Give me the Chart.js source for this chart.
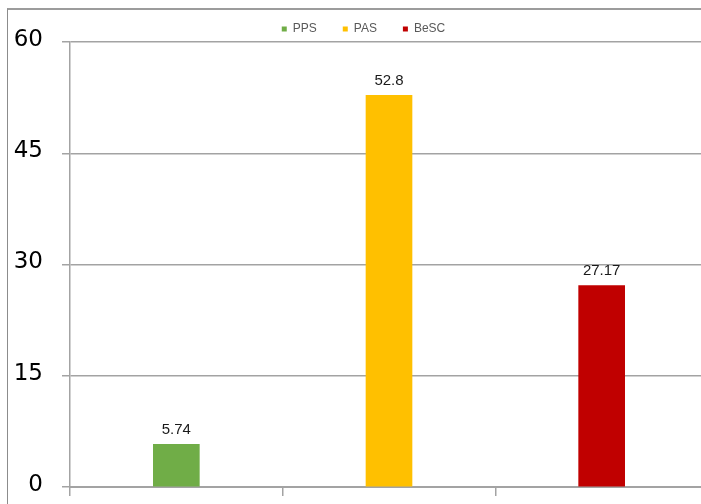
<!DOCTYPE html>
<html>
<head>
<meta charset="utf-8">
<script src="https://cdn.jsdelivr.net/npm/chart.js@4/dist/chart.umd.min.js"></script>
<style>
  html, body { margin: 0; padding: 0; background: #fff; overflow: hidden; }
  #wrap { position: relative; width: 701px; height: 504px; overflow: hidden; }
  #frame { position: absolute; left: 7px; top: 8px; width: 694px; height: 496px; box-sizing: border-box;
           border-left: 1px solid #8c8c8c; border-top: 2px solid #9c9c9c; pointer-events: none; }
  #c { position: absolute; left: 0; top: 0; }
</style>
</head>
<body>
<div id="wrap">
  <div id="frame"></div>
  <canvas id="c" width="701" height="504" style="width:701px;height:504px"></canvas>
</div>
<script>
const categories = ["PPS", "PAS", "BeSC"];
const values = [5.74, 52.8, 27.17];
const valueLabels = ["5.74", "52.8", "27.17"];
const colors = ["#70AD47", "#FFC000", "#C00000"];
const yTicks = [0, 15, 30, 45, 60];

const gridColor = "#a3a3a3";

const valueLabelPlugin = {
  id: "valueLabels",
  afterDatasetsDraw(chart) {
    const ctx = chart.ctx;
    const meta = chart.getDatasetMeta(0);
    ctx.save();
    ctx.font = "15px 'Liberation Sans', Arial, sans-serif";
    ctx.fillStyle = "#1a1a1a";
    ctx.textAlign = "center";
    ctx.textBaseline = "alphabetic";
    meta.data.forEach((el, i) => {
      ctx.fillText(valueLabels[i], el.x, el.y - 10);
    });
    ctx.restore();
  }
};

// The original plot area continues ~7px past the right edge of the picture.
const layoutTweak = {
  id: "layoutTweak",
  afterLayout(chart) {
    if (chart.legend) { chart.legend.left += 13; chart.legend.right += 13; }
    const x = chart.scales.x;
    x.right = chart.chartArea.right + 7;
    x.width = x.right - x.left;
    x.configure();
  }
};

new Chart(document.getElementById("c"), {
  type: "bar",
  data: {
    labels: categories,
    datasets: [{
      data: values,
      backgroundColor: colors,
      borderWidth: 0,
      barThickness: 46
    }]
  },
  options: {
    responsive: false,
    maintainAspectRatio: false,
    devicePixelRatio: 1,
    animation: false,
    layout: { padding: { left: 0, top: -3, right: 0, bottom: 8 } },
    plugins: {
      tooltip: { enabled: false },
      legend: {
        display: true,
        position: "top",
        maxHeight: 45,
        labels: {
          boxWidth: 5,
          boxHeight: 5,
          padding: 26,
          color: "#595959",
          font: { family: "'Liberation Sans', Arial, sans-serif", size: 12 },
          generateLabels(chart) {
            return categories.map((c, i) => ({
              text: c,
              fillStyle: colors[i],
              strokeStyle: colors[i],
              lineWidth: 0,
              hidden: false,
              index: i,
              fontColor: "#595959"
            }));
          }
        },
        onClick: null
      }
    },
    scales: {
      x: {
        offset: true,
        grid: {
          offset: true,
          drawOnChartArea: false,
          drawTicks: true,
          tickLength: 9,
          color: gridColor,
          lineWidth: 1.5
        },
        border: { display: true, color: gridColor, width: 2 },
        ticks: { display: false },
        afterFit(scale) { scale.paddingLeft = 0; scale.paddingRight = 0; }
      },
      y: {
        min: 0,
        max: 60,
        afterFit(scale) { scale.width = 70; scale.paddingTop = 0; scale.paddingBottom = 0; },
        afterBuildTicks(scale) { scale.ticks = yTicks.map(v => ({ value: v })); },
        ticks: {
          stepSize: 15,
          padding: 19,
          labelOffset: -2,
          color: "#000",
          font: { family: "'DejaVu Sans', Verdana, sans-serif", size: 23 }
        },
        grid: {
          color: gridColor,
          lineWidth: 1.5,
          tickLength: 8,
          drawTicks: true
        },
        border: { display: true, color: gridColor, width: 1.5 }
      }
    }
  },
  plugins: [valueLabelPlugin, layoutTweak]
});
</script>
</body>
</html>
